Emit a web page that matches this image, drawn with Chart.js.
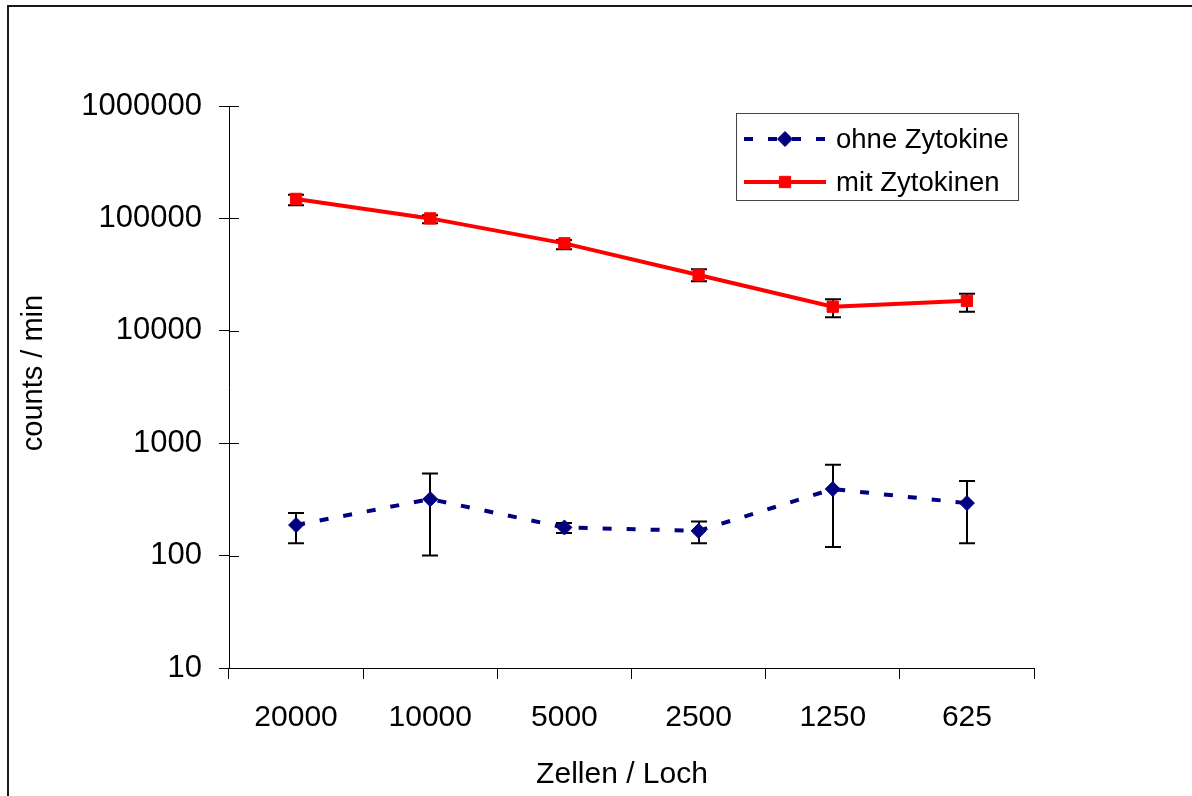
<!DOCTYPE html>
<html>
<head>
<meta charset="utf-8">
<script src="https://cdn.jsdelivr.net/npm/chart.js@4/dist/chart.umd.min.js"></script>
<style>
  html, body { margin: 0; padding: 0; background: #fff; }
  #wrap { width: 1192px; height: 796px; position: relative; }
</style>
</head>
<body>
<div id="wrap"><canvas id="c" width="1192" height="796"></canvas></div>
<script>
// Zellen pro Loch (x categories)
const cellCounts = ['20000', '10000', '5000', '2500', '1250', '625'];

// ohne Zytokine: mean and error bar bounds (counts / min)
const ohneMean = [187, 318, 178, 166, 391, 293];
const ohneLow  = [129, 100, 159, 129, 119, 129];
const ohneHigh = [239, 537, 195, 201, 642, 460];

// mit Zytokinen: mean and error bar bounds (counts / min)
const mitMean = [149000, 100000, 60000, 31400, 16400, 18500];
const mitLow  = [131000, 90400, 53200, 27600, 13200, 14800];
const mitHigh = [162000, 106400, 64400, 35300, 19100, 21400];

// y axis tick values (log scale)
const yTicks = [10, 100, 1000, 10000, 100000, 1000000];

const yTitle = 'counts / min';
const xTitle = 'Zellen / Loch';

const FONT = '"Liberation Sans", Arial, Helvetica, sans-serif';
Chart.defaults.font.family = FONT;
Chart.defaults.color = '#000';

// page frame and white background
const framePlugin = {
  id: 'frame',
  beforeDraw(chart) {
    const ctx = chart.ctx;
    ctx.save();
    ctx.fillStyle = '#fff';
    ctx.fillRect(0, 0, chart.width, chart.height);
    ctx.fillStyle = '#1a1a1a';
    ctx.fillRect(7, 5, chart.width - 7, 2);
    ctx.fillRect(7, 5, 2, chart.height - 5);
    ctx.restore();
  }
};

// inner tick stubs on the y axis (ticks cross the axis line) and axis titles
const axisExtrasPlugin = {
  id: 'axisExtras',
  afterDraw(chart) {
    const y = chart.scales.y;
    const ctx = chart.ctx;
    ctx.save();
    ctx.strokeStyle = '#000';
    ctx.lineWidth = 1;
    y.ticks.forEach(t => {
      const py = Math.round(y.getPixelForValue(t.value)) + 0.5;
      ctx.beginPath();
      ctx.moveTo(y.right, py);
      ctx.lineTo(y.right + 10, py);
      ctx.stroke();
    });
    ctx.fillStyle = '#000';
    ctx.textAlign = 'center';
    ctx.textBaseline = 'middle';
    ctx.font = '30px ' + FONT;
    ctx.fillText(xTitle, 622, 775);
    ctx.translate(34, 373);
    ctx.rotate(-Math.PI / 2);
    ctx.font = '29px ' + FONT;
    ctx.fillText(yTitle, 0, 0);
    ctx.restore();
  }
};

// vertical error bars with caps, drawn beneath the markers
const errorBarPlugin = {
  id: 'errorBars',
  beforeDatasetsDraw(chart) {
    const ctx = chart.ctx;
    const ys = chart.scales.y;
    ctx.save();
    ctx.strokeStyle = '#000';
    ctx.lineWidth = 2;
    chart.data.datasets.forEach((ds, di) => {
      const meta = chart.getDatasetMeta(di);
      meta.data.forEach((pt, i) => {
        const x = Math.round(pt.x);
        const yTop = ys.getPixelForValue(ds.errorHigh[i]);
        const yBot = ys.getPixelForValue(ds.errorLow[i]);
        ctx.beginPath();
        ctx.moveTo(x, yTop);
        ctx.lineTo(x, yBot);
        ctx.moveTo(x - 8, yTop);
        ctx.lineTo(x + 8, yTop);
        ctx.moveTo(x - 8, yBot);
        ctx.lineTo(x + 8, yBot);
        ctx.stroke();
      });
    });
    ctx.restore();
  }
};

// boxed legend with line + marker samples
const legendBoxPlugin = {
  id: 'legendBox',
  afterDraw(chart) {
    const ctx = chart.ctx;
    const bx = 736, by = 113, bw = 282, bh = 87;
    ctx.save();
    ctx.fillStyle = '#fff';
    ctx.fillRect(bx, by, bw, bh);
    ctx.strokeStyle = '#444';
    ctx.lineWidth = 1;
    ctx.strokeRect(bx + 0.5, by + 0.5, bw, bh);
    chart.data.datasets.forEach((ds, i) => {
      const cy = by + 26 + i * 43;
      ctx.strokeStyle = ds.borderColor;
      ctx.lineWidth = ds.borderWidth;
      ctx.setLineDash(ds.borderDash || []);
      ctx.beginPath();
      ctx.moveTo(744, cy);
      ctx.lineTo(826, cy);
      ctx.stroke();
      ctx.setLineDash([]);
      ctx.fillStyle = ds.pointBackgroundColor;
      ctx.strokeStyle = ds.pointBorderColor;
      ctx.lineWidth = ds.pointBorderWidth;
      Chart.helpers.drawPoint(ctx, {
        pointStyle: ds.pointStyle,
        radius: ds.pointRadius,
        borderWidth: ds.pointBorderWidth
      }, 785, cy);
      ctx.fillStyle = '#000';
      ctx.font = '27.5px ' + FONT;
      ctx.textBaseline = 'middle';
      ctx.textAlign = 'left';
      ctx.fillText(ds.label, 836, cy + 1);
    });
    ctx.restore();
  }
};

new Chart(document.getElementById('c'), {
  type: 'line',
  data: {
    labels: cellCounts,
    datasets: [
      {
        label: 'ohne Zytokine',
        data: ohneMean,
        errorLow: ohneLow,
        errorHigh: ohneHigh,
        borderColor: '#000080',
        borderWidth: 4,
        borderDash: [9, 15],
        pointStyle: 'rectRot',
        pointRadius: 7.5,
        pointBorderWidth: 1,
        pointBackgroundColor: '#000080',
        pointBorderColor: '#000080',
        fill: false,
        tension: 0
      },
      {
        label: 'mit Zytokinen',
        data: mitMean,
        errorLow: mitLow,
        errorHigh: mitHigh,
        borderColor: '#ff0000',
        borderWidth: 4,
        pointStyle: 'rect',
        pointRadius: 8,
        pointBorderWidth: 1,
        pointBackgroundColor: '#ff0000',
        pointBorderColor: '#ff0000',
        fill: false,
        tension: 0
      }
    ]
  },
  options: {
    responsive: false,
    animation: false,
    devicePixelRatio: 1,
    layout: { padding: { top: 106, right: 158, left: 0, bottom: 0 } },
    plugins: {
      legend: { display: false },
      tooltip: { enabled: false }
    },
    scales: {
      x: {
        type: 'category',
        offset: true,
        grid: {
          offset: true,
          drawOnChartArea: false,
          drawTicks: true,
          tickLength: 11,
          color: '#000',
          lineWidth: 1
        },
        border: { display: true, color: '#000', width: 1 },
        ticks: {
          font: { size: 30 },
          padding: 21,
          maxRotation: 0,
          autoSkip: false
        },
        title: { display: false },
        afterFit(scale) { scale.height = 128; }
      },
      y: {
        type: 'logarithmic',
        min: 10,
        max: 1000000,
        grid: {
          drawOnChartArea: false,
          drawTicks: true,
          tickLength: 10,
          color: '#000',
          lineWidth: 1
        },
        border: { display: true, color: '#000', width: 1 },
        afterBuildTicks(scale) {
          scale.ticks = yTicks.map(v => ({ value: v, major: true }));
        },
        ticks: {
          font: { size: 31 },
          padding: 17,
          callback: v => String(v)
        },
        title: { display: false },
        afterFit(scale) { scale.width = 229; }
      }
    }
  },
  plugins: [framePlugin, errorBarPlugin, axisExtrasPlugin, legendBoxPlugin]
});
</script>
</body>
</html>
